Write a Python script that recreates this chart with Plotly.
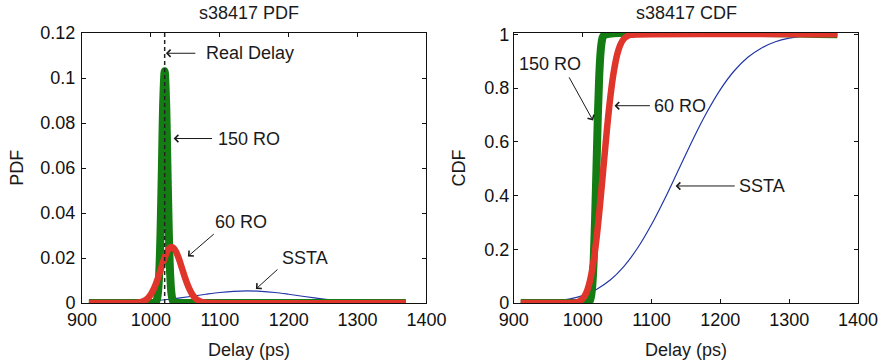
import plotly.graph_objects as go

# ---------------- data ----------------
# PDF panel
ro150_pdf_x = [910, 1000, 1005, 1008, 1010, 1012, 1014, 1016, 1018, 1020, 1022, 1024, 1026, 1028, 1030, 1032, 1035, 1040, 1370]
ro150_pdf_y = [0, 0, 0.00006, 0.00091, 0.00385, 0.0126, 0.0316, 0.0609, 0.0903, 0.103, 0.0903, 0.0609, 0.0316, 0.0126, 0.00385, 0.00091, 0.00006, 0, 0]

ro60_pdf_x = [910, 970, 980, 985, 990, 995, 1000, 1005, 1010, 1015, 1020, 1025, 1030, 1035, 1040, 1045, 1050, 1055, 1060, 1065, 1070, 1075, 1080, 1090, 1370]
ro60_pdf_y = [0, 0.00001, 0.00014, 0.00037, 0.00089, 0.00194, 0.00383, 0.0068, 0.0108, 0.0156, 0.0202, 0.0236, 0.0249,
              0.0236, 0.0202, 0.0156, 0.0108, 0.0068, 0.00383, 0.00194, 0.00089, 0.00037, 0.00014, 0, 0]

ssta_x = [910, 940, 960, 980, 1000, 1020, 1040, 1060, 1080, 1100, 1120, 1140, 1160, 1180, 1200, 1220, 1240, 1260, 1280, 1300, 1320, 1340, 1370]
ssta_pdf_y = [0.00004, 0.00014, 0.00028, 0.00052, 0.0009, 0.00145, 0.00217, 0.00301, 0.00389, 0.00467, 0.0052, 0.0054,
              0.0052, 0.00467, 0.00389, 0.00301, 0.00217, 0.00145, 0.0009, 0.00052, 0.00028, 0.00014, 0.00004]

real_delay = 1020

# CDF panel
ro150_cdf_x = [910, 1000, 1006, 1008, 1010, 1012, 1014, 1016, 1018, 1020, 1022, 1024, 1026, 1028, 1030, 1034, 1370]
ro150_cdf_y = [0, 0, 0.0002, 0.0013, 0.0062, 0.0228, 0.0668, 0.1587, 0.3085, 0.5, 0.6915, 0.8413, 0.9332, 0.9772, 0.9938, 0.9998, 1]

ro60_cdf_x = [910, 970, 980, 990, 995, 1000, 1005, 1010, 1015, 1020, 1025, 1030, 1035, 1040, 1045, 1050, 1055, 1060, 1065, 1070, 1080, 1370]
ro60_cdf_y = [0, 0, 0.0002, 0.0021, 0.0062, 0.0161, 0.037, 0.0764, 0.1423, 0.2376, 0.3605, 0.5, 0.6395, 0.7624, 0.8577,
              0.9236, 0.963, 0.9839, 0.9938, 0.9979, 0.9998, 1]

ssta_cdf_y = [0.0008, 0.0031, 0.0068, 0.0143, 0.0274, 0.0505, 0.0853, 0.1365, 0.2055, 0.292, 0.392, 0.5, 0.608, 0.708,
              0.7945, 0.8635, 0.9147, 0.9495, 0.9726, 0.9857, 0.9932, 0.9969, 0.9992]

x_ticks = [900, 1000, 1100, 1200, 1300, 1400]
pdf_ticks = [0, 0.02, 0.04, 0.06, 0.08, 0.1, 0.12]
cdf_ticks = [0, 0.2, 0.4, 0.6, 0.8, 1]

# ---------------- styles ----------------
GREEN = "#137d13"
RED = "#e0352a"
BLUE = "#2238a8"
FONT = "Liberation Sans, Arial, sans-serif"
TXT = "#1a1a1a"

fig = go.Figure()

def curve(x, y, color, width, xa, ya):
    fig.add_trace(go.Scatter(x=x, y=y, mode="lines", line=dict(color=color, width=width, shape="spline"),
                             xaxis=xa, yaxis=ya, cliponaxis=False, showlegend=False, hoverinfo="skip"))

# PDF
curve(ssta_x, ssta_pdf_y, BLUE, 1.2, "x", "y")
curve(ro150_pdf_x, ro150_pdf_y, GREEN, 8, "x", "y")
curve(ro60_pdf_x, ro60_pdf_y, RED, 6.5, "x", "y")
fig.add_trace(go.Scatter(x=[real_delay, real_delay], y=[0, pdf_ticks[-1]], mode="lines",
                         line=dict(color="#222222", width=1.5, dash="4px,3px"),
                         xaxis="x", yaxis="y", showlegend=False, hoverinfo="skip"))
# CDF
curve(ssta_x, ssta_cdf_y, BLUE, 1.2, "x2", "y2")
curve(ro150_cdf_x, ro150_cdf_y, GREEN, 8, "x2", "y2")
curve(ro60_cdf_x, ro60_cdf_y, RED, 6.5, "x2", "y2")

axis_common = dict(showgrid=False, zeroline=False, showline=True, linecolor="#111111", linewidth=1,
                   mirror="ticks", ticks="inside", ticklen=4, tickcolor="#111111", layer="below traces",
                   tickfont=dict(family=FONT, size=18, color="#111111"))

fig.update_layout(
    width=890, height=363,
    margin=dict(l=82, r=24, t=33, b=60),
    paper_bgcolor="white", plot_bgcolor="white",
    xaxis=dict(domain=[0, 0.4439], range=[900, 1400], tickvals=x_ticks, anchor="y", **axis_common),
    yaxis=dict(domain=[0, 1], range=[0, 0.12], tickvals=pdf_ticks, anchor="x", ticklabelstandoff=2, **axis_common),
    xaxis2=dict(domain=[0.5565, 1], range=[900, 1400], tickvals=x_ticks, anchor="y2", **axis_common),
    yaxis2=dict(domain=[0, 1], range=[0, 1.005], tickvals=cdf_ticks, anchor="x2", **axis_common),
)

ann = []
def text(x, y, s, xref, yref, **kw):
    d = dict(x=x, y=y, text=s, xref=xref, yref=yref, showarrow=False,
             font=dict(family=FONT, size=18, color=TXT), xanchor="center", yanchor="middle")
    d.update(kw)
    ann.append(d)

def arrow(x0, y0, x1, y1, xref, yref):
    ann.append(dict(x=x1, y=y1, ax=x0, ay=y0, xref=xref, yref=yref, axref=xref, ayref=yref,
                    text="", showarrow=True, arrowhead=4, arrowsize=1.4, arrowwidth=1, arrowcolor=TXT))

# titles and axis titles
text(0.2156, 1.073, "s38417 PDF", "paper", "paper")
text(0.7785, 1.073, "s38417 CDF", "paper", "paper")
text(0.2156, -0.174, "Delay (ps)", "paper", "paper")
text(0.7785, -0.174, "Delay (ps)", "paper", "paper")
text(-0.0842, 0.50, "PDF", "paper", "paper", textangle=-90)
text(0.4864, 0.50, "CDF", "paper", "paper", textangle=-90)

# PDF annotations
text(1076.7, 0.111, "Real Delay", "x", "y", xanchor="left")
arrow(1066.7, 0.111, 1021.7, 0.111, "x", "y")
text(1094.0, 0.0731, "150 RO", "x", "y", xanchor="left")
arrow(1091.0, 0.0731, 1033.0, 0.0731, "x", "y")
text(1131.3, 0.0358, "60 RO", "x", "y")
arrow(1093.5, 0.0312, 1053.7, 0.0207, "x", "y")
text(1223.0, 0.0202, "SSTA", "x", "y")
arrow(1185.9, 0.0155, 1152.4, 0.0062, "x", "y")

# CDF annotations
text(952.3, 0.891, "150 RO", "x2", "y2")
arrow(979.1, 0.8456, 1015.0, 0.679, "x2", "y2")
text(1141.6, 0.7344, "60 RO", "x2", "y2")
arrow(1099.9, 0.7344, 1046.2, 0.7344, "x2", "y2")
text(1261.2, 0.4356, "SSTA", "x2", "y2")
arrow(1223.1, 0.4356, 1135.0, 0.4356, "x2", "y2")

fig.update_layout(annotations=ann)
fig.write_html("out.html")
